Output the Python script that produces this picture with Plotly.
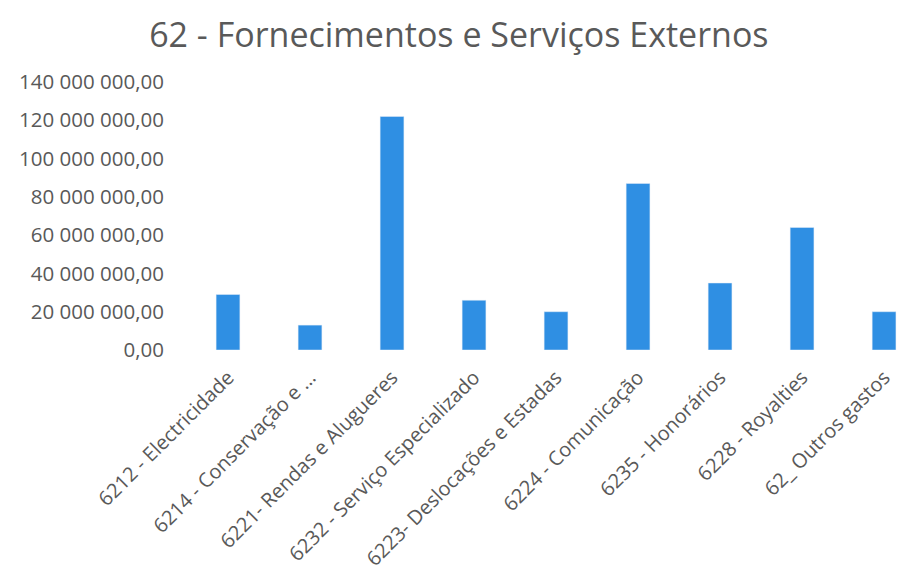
import plotly.graph_objects as go

categories = [
    "6212 - Electricidade",
    "6214 - Conservação e ...",
    "6221- Rendas e Alugueres",
    "6232 - Serviço Especializado",
    "6223- Deslocações e Estadas",
    "6224 - Comunicação",
    "6235 - Honorários",
    "6228 - Royalties",
    "62_ Outros gastos",
]
values = [29e6, 13e6, 122e6, 26e6, 20e6, 87e6, 35e6, 64e6, 20e6]
tick_vals = [0, 20e6, 40e6, 60e6, 80e6, 100e6, 120e6, 140e6]
tick_text = ["0,00", "20 000 000,00", "40 000 000,00", "60 000 000,00",
             "80 000 000,00", "100 000 000,00", "120 000 000,00", "140 000 000,00"]

fig = go.Figure(go.Bar(x=list(range(len(categories))), y=values,
                       marker_color="#2F8FE3", width=0.29))

fig.update_layout(
    width=898, height=578,
    paper_bgcolor="white", plot_bgcolor="white",
    margin=dict(l=187, r=0, t=82, b=228),
    title=dict(text="62 - Fornecimentos e Serviços Externos", x=0.511, xanchor="center",
               y=0.94, yanchor="middle",
               font=dict(family="Open Sans", size=34, color="#595959")),
    showlegend=False,
    font=dict(family="Open Sans", color="#595959"),
)
fig.update_xaxes(range=[-0.5, 8.17], tickmode="array",
                 tickvals=list(range(len(categories))), ticktext=categories,
                 tickangle=-45, tickfont=dict(size=20, color="#595959"),
                 showgrid=False, showline=False, zeroline=False, ticks="",
                 ticklabelstandoff=11, automargin=False)
fig.update_yaxes(range=[0, 140e6], tickmode="array", tickvals=tick_vals, ticktext=tick_text,
                 tickfont=dict(size=20.5, color="#595959"), showgrid=False,
                 zeroline=False, showline=False, ticks="", ticklabelstandoff=22,
                 automargin=False)

fig.write_html("out.html", config={"displayModeBar": False},
               post_script="document.body.style.margin='0';")
